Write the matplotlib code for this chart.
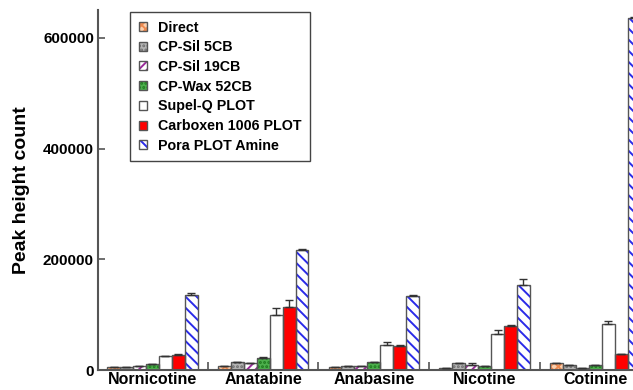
import numpy as np
import matplotlib
matplotlib.use("Agg")
import matplotlib.pyplot as plt
from matplotlib.patches import Patch

plt.rcParams['font.family'] = ['Liberation Sans', 'DejaVu Sans']
plt.rcParams['hatch.linewidth'] = 1.4

# data
compounds = ["Nornicotine", "Anatabine", "Anabasine", "Nicotine", "Cotinine"]
columns = ["Direct", "CP-Sil 5CB", "CP-Sil 19CB", "CP-Wax 52CB",
           "Supel-Q PLOT", "Carboxen 1006 PLOT", "Pora PLOT Amine"]

direct    = [5000, 8000, 6000, 3000, 12000]
cpsil5    = [6000, 14000, 8000, 12000, 9000]
cpsil19   = [8000, 13000, 8000, 10000, 3000]
cpwax     = [11000, 21000, 14000, 7000, 10000]
supelq    = [25000, 100000, 45000, 66000, 83000]
carboxen  = [27000, 114000, 44000, 80000, 29000]
pora      = [135000, 216000, 134000, 154000, 636000]

direct_err   = [0, 0, 0, 0, 0]
cpsil5_err   = [0, 1000, 0, 0, 0]
cpsil19_err  = [0, 0, 0, 2000, 0]
cpwax_err    = [0, 2000, 0, 0, 0]
supelq_err   = [1000, 13000, 5000, 6000, 5000]
carboxen_err = [2000, 12000, 2000, 1000, 0]
pora_err     = [5000, 3000, 2000, 11000, 2000]

values = [direct, cpsil5, cpsil19, cpwax, supelq, carboxen, pora]
errors = [direct_err, cpsil5_err, cpsil19_err, cpwax_err, supelq_err, carboxen_err, pora_err]

# face colour, hatch, hatch colour
styles = [
    ("#FBD0AE", "xxxx", "#EE8A50"),
    ("#B4B4B4", "....", "#707070"),
    ("white", "////", "#9A2A9A"),
    ("#4CAF4C", "....", "#1E7A1E"),
    ("white", "", "white"),
    ("#FF0000", "", "#FF0000"),
    ("white", "\\\\\\", "#2A2AE8"),
]
edge = "#555555"

fig = plt.figure(figsize=(6.33, 3.9), dpi=100)
ax = fig.add_axes([0.155, 0.051, 0.845, 0.923])

x = np.arange(len(compounds))
w = 0.117
handles = []
for i, (vals, errs, (fc, h, hc)) in enumerate(zip(values, errors, styles)):
    pos = x + (i - 3) * w
    ax.bar(pos, vals, w, color=fc, hatch=h, edgecolor=hc, linewidth=0, zorder=2)
    ax.bar(pos, vals, w, fill=False, edgecolor=edge, linewidth=1.0, zorder=3)
    errs = np.array(errs)
    ax.errorbar(pos, vals, yerr=[np.zeros_like(errs), errs], fmt="none",
                ecolor="#333333", elinewidth=1.0, capsize=3, capthick=1.0, zorder=4)
    handles.append((Patch(facecolor=fc, hatch=h, edgecolor=hc, linewidth=0),
                    Patch(fill=False, edgecolor=edge, linewidth=1.0)))

ax.set_xlim(-0.49, 4.34)
ax.set_ylim(0, 650000)
ax.set_yticks([0, 200000, 400000, 600000])
ax.set_yticklabels(["0", "200000", "400000", "600000"])
ax.set_xticks(x)
ax.set_xticklabels(compounds)
ax.set_xticks([0.5, 1.5, 2.5, 3.5], minor=True)

for s in ["top", "right"]:
    ax.spines[s].set_visible(False)
for s in ["left", "bottom"]:
    ax.spines[s].set_color(edge)
    ax.spines[s].set_linewidth(1.5)

ax.tick_params(axis="y", direction="in", length=5, width=1.2, color=edge, pad=3,
               labelsize=11)
ax.tick_params(axis="x", which="major", length=0, pad=1.5, labelsize=11.5)
ax.tick_params(axis="x", which="minor", direction="in", length=6, width=1.2, color=edge)
for lab in ax.get_xticklabels() + ax.get_yticklabels():
    lab.set_fontweight("bold")

ax.set_ylabel("Peak height count", fontsize=14, fontweight="bold", labelpad=9)

leg = ax.legend(handles, columns, loc="upper left", bbox_to_anchor=(0.06, 0.995),
                fancybox=False, edgecolor="#444444", framealpha=1,
                handlelength=0.6, handleheight=0.6, handletextpad=0.75,
                labelspacing=0.4, borderpad=0.6, borderaxespad=0,
                prop={"weight": "bold", "size": 10.3})
leg.get_frame().set_linewidth(1.0)

fig.savefig("out.png", dpi=100)
